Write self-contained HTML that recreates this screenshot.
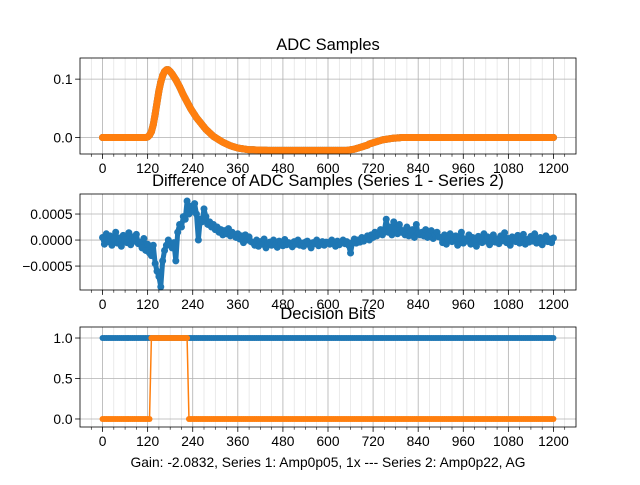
<!DOCTYPE html>
<html><head><meta charset="utf-8"><style>
body{margin:0;background:#fff;}
svg text{font-family:"Liberation Sans","DejaVu Sans",sans-serif;fill:#000;}
</style></head><body>
<svg id="fig" width="640" height="480" xmlns="http://www.w3.org/2000/svg"></svg>
<script>
// ---- data ----
const xTicks = [0,120,240,360,480,600,720,840,960,1080,1200];
const adcValues = [0,0,0,0,0,0,0,0,0,0,0,0,0,0,0,0,0,0,0,0,0,0,0,0,
0.001,0.004,0.01,0.022,0.04,0.06,0.08,0.095,0.106,0.113,0.116,0.116,0.113,0.109,0.104,0.099,0.093,0.087,0.08,0.073,0.067,0.061,0.055,0.049,0.044,0.039,0.034,0.030,0.026,0.022,0.018,0.014,0.011,0.008,0.005,0.002,0,-0.002,-0.004,-0.006,-0.008,-0.0095,-0.011,-0.0125,-0.014,-0.015,-0.016,-0.017,-0.018,-0.0185,-0.019,-0.0195,-0.02,-0.0205,
-0.021,-0.021,-0.021,-0.0212,-0.0214,-0.0215,-0.0216,-0.0217,-0.0218,-0.0218,-0.022,-0.022,-0.022,-0.022,-0.022,-0.022,-0.022,-0.022,-0.022,-0.022,-0.022,-0.022,-0.022,-0.022,-0.022,-0.022,-0.022,-0.022,-0.022,-0.022,-0.022,-0.022,-0.022,-0.022,-0.022,-0.022,-0.022,-0.022,-0.022,-0.022,-0.022,-0.022,-0.022,-0.022,-0.022,-0.022,-0.022,-0.022,-0.022,-0.022,-0.022,-0.022,
-0.022,-0.0215,-0.021,-0.0205,-0.02,-0.019,-0.018,-0.017,-0.016,-0.015,-0.014,-0.013,-0.011,-0.01,-0.009,-0.008,-0.007,-0.006,-0.005,-0.004,-0.0035,-0.003,-0.0025,-0.002,-0.0015,-0.001,-0.001,-0.0005,-0.0005,0,
0,0,0,0,0,0,0,0,0,0,0,0,0,0,0,0,0,0,0,0,0,0,0,0,0,0,0,0,0,0,0,0,0,0,0,0,0,0,0,0,0,0,0,0,0,0,0,0,0,0,0,0,0,0,0,0,0,0,0,0,0,0,0,0,0,0,0,0,0,0,0,0,0,0,0,0,0,0,0,0,0];
const adcYTicks = [0.0,0.1];
const adcYLabels = ["0.0","0.1"];
const diffValues = [5,-8,12,-3,8,-10,2,15,-6,4,-12,9,0,-5,14,-9,6,-2,11,-7,
-4,-15,3,-20,-8,-25,-30,-10,-45,-60,-70,-90,-40,-20,-10,0,-10,-15,-5,-40,
15,30,25,45,40,75,50,65,55,70,50,0,40,35,60,45,30,35,25,30,
20,25,15,20,10,18,12,22,8,15,10,5,12,2,8,-5,10,0,6,-3,
-5,-10,0,-12,-3,-8,2,-15,-6,-4,-10,0,-8,-14,-2,-6,-11,1,-9,-5,-7,-13,-3,-8,0,-10,-6,-12,-4,-2,-9,-15,-5,-7,0,-11,-6,-3,-10,-4,
-5,-8,0,-6,-12,-2,-9,-4,0,-7,-3,-10,-25,-5,2,-6,0,-4,5,-2,
3,8,0,10,5,15,8,12,20,10,18,40,15,25,10,35,20,12,30,15,
18,10,25,8,15,20,5,30,12,10,15,8,20,5,12,18,3,10,15,6,
5,-5,10,-8,2,12,-3,0,8,-10,4,15,-6,2,-2,10,-8,5,0,-12,7,3,-5,12,-2,6,-9,0,10,-4,2,-7,8,-1,14,-5,3,-10,6,0,-3,9,-6,4,11,-8,1,-4,7,-2,12,-6,0,5,-9,3,8,-3,2,-5,4]; // units of 1e-5
const diffYTicks = [-0.0005,0,0.0005];
const diffYLabels = ["\u22120.0005","0.0000","0.0005"];
const bits1 = "1111111111"+"1111111111"+"1111111111"+"1111111111"+"1111111111"+"1111111111"+"1111111111"+"1111111111"+"1111111111"+"1111111111"+"1111111111"+"1111111111"+"1111111111"+"1111111111"+"1111111111"+"1111111111"+"1111111111"+"1111111111"+"1111111111"+"1111111111"+"1111111111"+"1111111111"+"1111111111"+"1111111111"+"1";
const bits2 = "0000000000"+"0000000000"+"0000001111"+"1111111111"+"1111110000"+"0000000000"+"0000000000"+"0000000000"+"0000000000"+"0000000000"+"0000000000"+"0000000000"+"0000000000"+"0000000000"+"0000000000"+"0000000000"+"0000000000"+"0000000000"+"0000000000"+"0000000000"+"0000000000"+"0000000000"+"0000000000"+"0000000000"+"0";
const bitYTicks = [0,0.5,1];
const bitYLabels = ["0.0","0.5","1.0"];

const NS="http://www.w3.org/2000/svg";
const svg=document.getElementById('fig');
function el(tag,attrs,parent){const e=document.createElementNS(NS,tag);for(const k in attrs)e.setAttribute(k,attrs[k]);(parent||svg).appendChild(e);return e;}
const X0=80,X1=576,XMIN=-60,XMAX=1260;
const sx=v=>X0+(v-XMIN)/(XMAX-XMIN)*(X1-X0);
const FS=13.8;

function axes(name,top,bot,ymin,ymax,yt,yl,title){
  const g=el('g',{});
  
  
  const sy=v=>bot-(v-ymin)/(ymax-ymin)*(bot-top);
  for(let v=-30;v<=1230;v+=30){const x=sx(v);if(x<X0||x>X1)continue;
    const major=v%120===0;
    el('line',{x1:x,x2:x,y1:top,y2:bot,stroke:major?'#b0b0b0':'#dcdcdc','stroke-width':major?0.8:0.6},g);
    el('line',{x1:x,x2:x,y1:bot,y2:bot+(major?4.9:2.8),stroke:'#000','stroke-width':major?0.8:0.6},g);}
  yt.forEach((v,i)=>{const y=sy(v);
    el('line',{x1:X0,x2:X1,y1:y,y2:y,stroke:'#b0b0b0','stroke-width':0.8},g);
    el('line',{x1:X0-4.9,x2:X0,y1:y,y2:y,stroke:'#000','stroke-width':0.8},g);
    const t=el('text',{x:X0-7.5,y:y+4.8,'font-size':FS,'text-anchor':'end'},g);t.textContent=yl[i];
    
    });
  xTicks.forEach(v=>{const t=el('text',{x:sx(v),y:bot+19,'font-size':FS,'text-anchor':'middle'},g);t.textContent=v;
    
    });
  const tt=el('text',{x:328,y:top-8,'font-size':16.5,'text-anchor':'middle'},g);tt.textContent=title;
  
  
  return {g,sy,top,bot};
}
function series(ax,xs,ys,color,name,lw,r){
  const g=el('g',{},ax.g);
  
  
  el('polyline',{points:xs.map((x,i)=>sx(x)+','+ax.sy(ys[i])).join(' '),fill:'none',stroke:color,'stroke-width':lw,'stroke-linejoin':'round','stroke-linecap':'round'},g);
  xs.forEach((x,i)=>el('circle',{cx:sx(x),cy:ax.sy(ys[i]),r:r,fill:color},g));
}
function frame(ax){el('rect',{x:X0,y:ax.top,width:X1-X0,height:ax.bot-ax.top,fill:'none',stroke:'#000','stroke-width':0.8},ax.g);}

const a1=axes('adc-samples-plot',58,154,-0.0282,0.1362,adcYTicks,adcYLabels,'ADC Samples');
const x5=adcValues.map((_,i)=>i*5);
series(a1,x5,adcValues,'#1f77b4','adc-series-1',7,3.5);
series(a1,x5,adcValues,'#ff7f0e','adc-series-2',7,3.5);
frame(a1);

const a2=axes('difference-plot',194,290,-0.00096,0.000885,diffYTicks,diffYLabels,'Difference of ADC Samples (Series 1 - Series 2)');
series(a2,diffValues.map((_,i)=>i*5),diffValues.map(v=>v*1e-5),'#1f77b4','difference-series',5,3.5);
frame(a2);

const a3=axes('decision-bits-plot',327,427,-0.099,1.136,bitYTicks,bitYLabels,'Decision Bits');
const b1=bits1.split('').map(Number),b2=bits2.split('').map(Number);
series(a3,b1.map((_,i)=>i*5),b1,'#1f77b4','bits-series-1',1.5,3);
series(a3,b2.map((_,i)=>i*5),b2,'#ff7f0e','bits-series-2',1.5,3);
frame(a3);

const xl=el('text',{x:328,y:467,'font-size':FS,'text-anchor':'middle'});
xl.textContent='Gain: -2.0832, Series 1: Amp0p05, 1x --- Series 2: Amp0p22, AG';


</script>
</body></html>
